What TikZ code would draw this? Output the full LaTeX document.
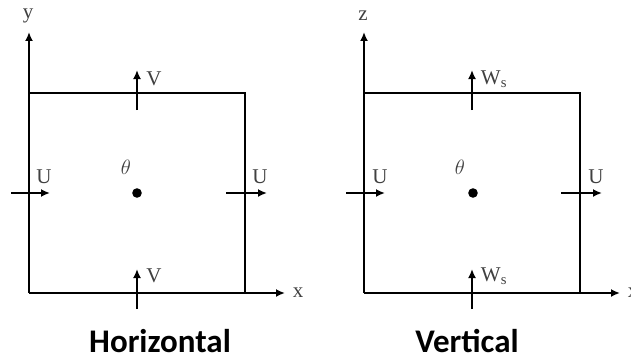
\documentclass[tikz,border=0pt]{standalone}
\usepackage{fontspec}
\setmainfont{Liberation Serif}
\newfontfamily\titlefont{Carlito}
\usetikzlibrary{arrows.meta}
\tikzset{
  linha/.style={line width=2.8pt},
  seta/.style={line width=2.8pt, -{Latex[length=9pt,width=8pt]}},
  rotulo/.style={inner sep=0pt, text=black!75, font=\fontsize{21}{23}\selectfont},
  titulo/.style={inner sep=0pt, anchor=base, font=\titlefont\bfseries\fontsize{33}{35}\selectfont},
}

\begin{document}
\begin{tikzpicture}[x=1pt, y=-1pt]
  \useasboundingbox (0,0) rectangle (631,361);
  \clip (0,0) rectangle (631,361);

  % painel horizontal
  \coordinate (hO) at (29,293);
  \coordinate (hYtip) at (29,32);
  \coordinate (hXtip) at (285,293);
  \coordinate (hTL) at (29,93);
  \coordinate (hTR) at (245,93);
  \coordinate (hBR) at (245,293);
  \node[rotulo] (hy) at (28,16) {y};
  \node[rotulo] (hx) at (298,293) {x};
  \draw[seta] (hO) -- (hYtip);
  \draw[seta] (hO) -- (hXtip);
  \draw[linha] (hTL) -- (hTR) -- (hBR);
  \coordinate (hVa) at (137,110);  \coordinate (hVb) at (137,70);
  \coordinate (hVc) at (137,309);  \coordinate (hVd) at (137,269);
  \coordinate (hUa) at (11,193);   \coordinate (hUb) at (50,193);
  \coordinate (hUc) at (226,193);  \coordinate (hUd) at (267,193);
  \draw[seta] (hVa) -- (hVb);
  \draw[seta] (hVc) -- (hVd);
  \draw[seta] (hUa) -- (hUb);
  \draw[seta] (hUc) -- (hUd);
  \node[rotulo] (hVtop) at (154,79) {V};
  \node[rotulo] (hVbot) at (154,276) {V};
  \node[rotulo] (hUl) at (44,177) {U};
  \node[rotulo] (hUr) at (260,177) {U};
  \node[rotulo] (hth) at (126,167) {$\theta$};
  \fill (137,193) circle (4.8pt) coordinate (hdot);
  \node[titulo] (htit) at (160,352) {Horizontal};

  % painel vertical
  \coordinate (vO) at (364,293);
  \coordinate (vZtip) at (364,32);
  \coordinate (vXtip) at (620,293);
  \coordinate (vTL) at (364,93);
  \coordinate (vTR) at (580,93);
  \coordinate (vBR) at (580,293);
  \node[rotulo] (vz) at (363,16) {z};
  \node[rotulo] (vx) at (633,293) {x};
  \draw[seta] (vO) -- (vZtip);
  \draw[seta] (vO) -- (vXtip);
  \draw[linha] (vTL) -- (vTR) -- (vBR);
  \coordinate (vWa) at (472,110);  \coordinate (vWb) at (472,70);
  \coordinate (vWc) at (472,309);  \coordinate (vWd) at (472,269);
  \coordinate (vUa) at (346,193);  \coordinate (vUb) at (385,193);
  \coordinate (vUc) at (561,193);  \coordinate (vUd) at (602,193);
  \draw[seta] (vWa) -- (vWb);
  \draw[seta] (vWc) -- (vWd);
  \draw[seta] (vUa) -- (vUb);
  \draw[seta] (vUc) -- (vUd);
  \node[rotulo] (vWtop) at (494,79) {W\textsubscript{s}};
  \node[rotulo] (vWbot) at (494,276) {W\textsubscript{s}};
  \node[rotulo] (vUl) at (380,177) {U};
  \node[rotulo] (vUr) at (596,177) {U};
  \node[rotulo] (vth) at (460,167) {$\theta$};
  \fill (473,193) circle (4.8pt) coordinate (vdot);
  \node[titulo] (vtit) at (467,352) {Vertical};
\end{tikzpicture}
\end{document}
